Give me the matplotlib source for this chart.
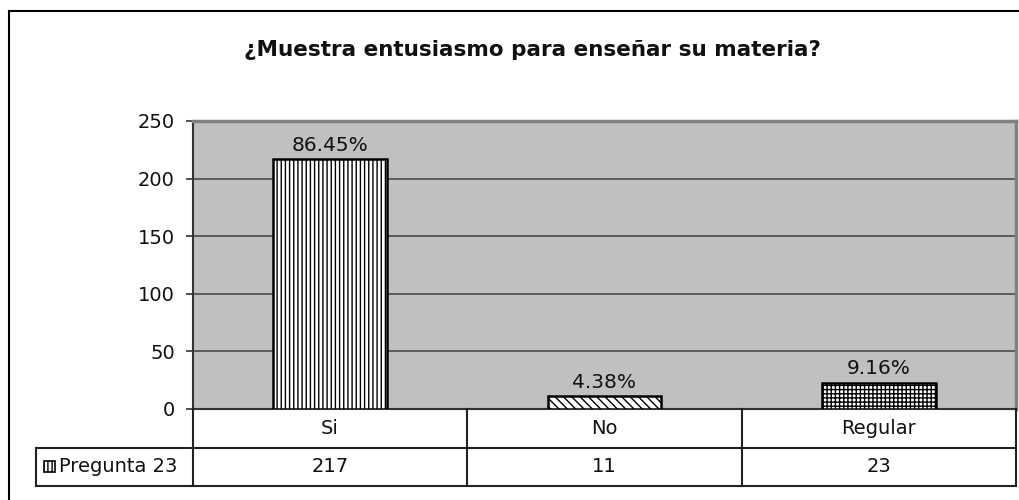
import matplotlib.pyplot as plt
from matplotlib.patches import Rectangle
from matplotlib.lines import Line2D

# data
categorias = ['Si', 'No', 'Regular']
valores = [217, 11, 23]
porcentajes = ['86.45%', '4.38%', '9.16%']
tramas = ['||||', '\\\\\\\\', '++++']
serie = 'Pregunta 23'
titulo = '¿Muestra entusiasmo para enseñar su materia?'

W, H = 1020, 500
plt.rcParams['font.family'] = ['DejaVu Sans']
plt.rcParams['hatch.linewidth'] = 1.0

fig = plt.figure(figsize=(W / 100, H / 100), dpi=100)


def fx(px):
    return px / W


def fy(py):
    return 1 - py / H


# plot area in pixels
x0, x1, y0, y1 = 193, 1016, 121, 409
ax = fig.add_axes([fx(x0), fy(y1), fx(x1) - fx(x0), fy(y0) - fy(y1)])
ax.set_facecolor('#C0C0C0')

xs = range(len(categorias))
bars = ax.bar(xs, valores, width=0.415, color='white', edgecolor='black',
              linewidth=1.8, zorder=3)
for b, h in zip(bars, tramas):
    b.set_hatch(h)

for x, v, p in zip(xs, valores, porcentajes):
    ax.annotate(p, (x, v), xytext=(0, 3), textcoords='offset points',
                ha='center', va='bottom', fontsize=14.5, color='#111111')

ax.set_xlim(-0.5, len(categorias) - 0.5)
ax.set_ylim(0, 250)
ax.set_yticks(range(0, 251, 50))
ax.set_xticks([])
ax.yaxis.grid(True, color='#404040', linewidth=1.1, zorder=1)
ax.set_axisbelow(True)
ax.tick_params(axis='y', labelsize=14, length=5, width=1.2, color='#333333',
               pad=8, labelcolor='#111111')
ax.spines['left'].set_color('#333333')
ax.spines['left'].set_linewidth(1.5)
ax.spines['bottom'].set_color('#333333')
ax.spines['bottom'].set_linewidth(1.5)
for s in ['top', 'right']:
    ax.spines[s].set_color('#808080')
    ax.spines[s].set_linewidth(2.5)

fig.text(fx(532), fy(50), titulo, ha='center', va='center', fontsize=15.5,
         fontweight='bold', color='#111111')

# data table under the axis
r1, r2 = 448, 486
lx = 36
col_px = [x0 + (x1 - x0) * i / len(categorias) for i in range(len(categorias) + 1)]
lc = '#222222'
lines = [
    (fx(x0), fx(x1), fy(r1), fy(r1)),
    (fx(lx), fx(x1), fy(r2), fy(r2)),
    (fx(lx), fx(x0), fy(r1), fy(r1)),
    (fx(lx), fx(lx), fy(r1), fy(r2)),
]
for cx in col_px:
    lines.append((fx(cx), fx(cx), fy(y1), fy(r2)))
for a, b, c, d in lines:
    fig.add_artist(Line2D([a, b], [c, d], color=lc, linewidth=1.5))

for i, (c, v) in enumerate(zip(categorias, valores)):
    cx = (col_px[i] + col_px[i + 1]) / 2
    fig.text(fx(cx), fy((y1 + r1) / 2), c, ha='center', va='center',
             fontsize=14, color='#111111')
    fig.text(fx(cx), fy((r1 + r2) / 2), str(v), ha='center', va='center',
             fontsize=14, color='#111111')

# legend key in table
fig.add_artist(Rectangle((fx(44), fy(472)), fx(11), fy(461) - fy(472),
                         facecolor='white', edgecolor='black', linewidth=1.2,
                         hatch='||||', transform=fig.transFigure))
fig.text(fx(59), fy((r1 + r2) / 2), serie, ha='left', va='center',
         fontsize=14, color='#111111')

# outer chart border (right and bottom run off the image)
fig.add_artist(Line2D([fx(9), fx(9)], [fy(11), 0], color='black', linewidth=1.5))
fig.add_artist(Line2D([fx(9), 1], [fy(11), fy(11)], color='black', linewidth=1.5))

fig.savefig('out.png', dpi=100)
